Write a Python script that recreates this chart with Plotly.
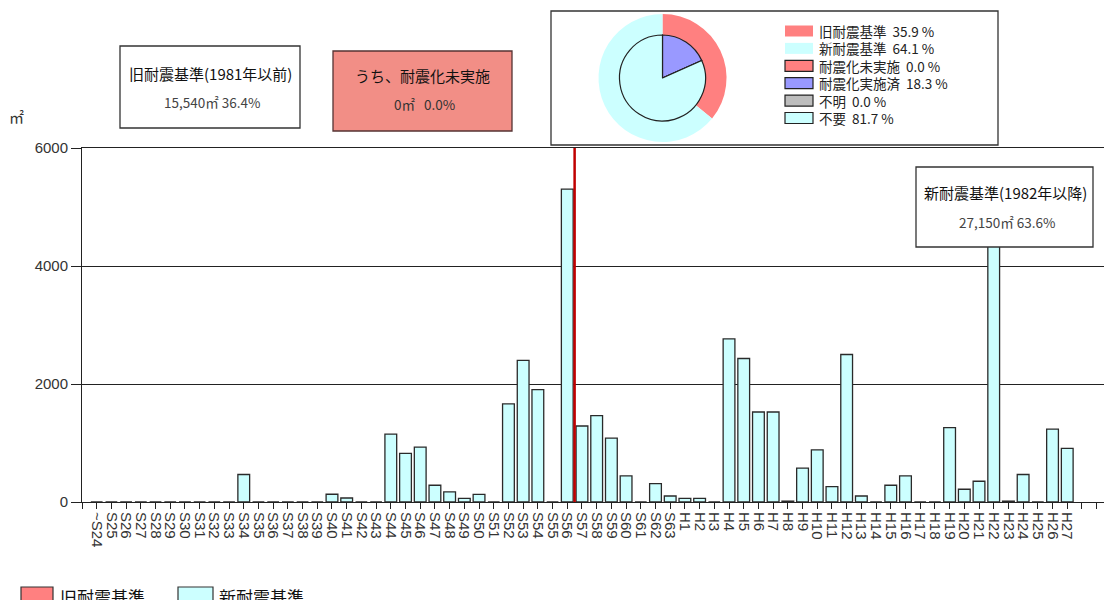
import plotly.graph_objects as go

W, H = 1104, 600

# ---------------- data ----------------
categories = ["~S24"] + [f"S{n}" for n in range(25, 64)] + [f"H{n}" for n in range(1, 28)]
areas = [0, 0, 0, 0, 0, 0, 0, 0, 0, 0,
         466, 0, 0, 0, 0, 0, 131, 68, 0, 0,
         1152, 823, 930, 284, 170, 63, 130, 0, 1662, 2399,
         1906, 0, 5302, 1288, 1463, 1083, 443, 0, 312, 102,
         63, 63, 0, 2766, 2432, 1525, 1525, 15, 573, 885,
         261, 2500, 102, 0, 284, 443, 0, 0, 1260, 216,
         352, 4570, 15, 466, 0, 1236, 908]
boundary_category = "S56"          # last year of the old seismic standard
extra_ticks_after = 2              # empty tick slots after H27
y_ticks = [0, 2000, 4000, 6000]

outer_labels = ["旧耐震基準", "新耐震基準"]
outer_pct = [35.9, 64.1]
inner_labels = ["耐震化未実施", "耐震化実施済", "不明", "不要"]
inner_pct = [0.0, 18.3, 0.0, 81.7]

old_title, old_area, old_share = "旧耐震基準(1981年以前)", "15,540", 36.4
unret_title, unret_area, unret_share = "うち、耐震化未実施", "0", 0.0
new_title, new_area, new_share = "新耐震基準(1982年以降)", "27,150", 63.6

# ---------------- styles ----------------
RED = "#FF8080"
CYAN = "#CCFFFF"
BLUE = "#9999FF"
GRAY = "#BDBDBD"
SALMON = "#F28E86"
JP = "Noto Sans CJK JP"
LAT = "Liberation Sans, Noto Sans CJK JP"
NB = "\u00a0"

def px(x):
    return x / W

def py(y):
    return 1 - y / H

idx = list(range(len(categories)))
tickvals = list(range(-1, len(categories) + extra_ticks_after))
ticktext = [categories[v] if 0 <= v < len(categories) else "" for v in tickvals]
boundary_x = categories.index(boundary_category) + 0.5

fig = go.Figure()

fig.add_trace(go.Bar(
    x=idx, y=areas, width=0.8,
    marker=dict(color=CYAN, line=dict(color="#2a2a2a", width=1.3)),
    showlegend=False, hoverinfo="skip",
))

# pies
fig.add_trace(go.Pie(
    labels=outer_labels, values=outer_pct, sort=False, direction="clockwise",
    marker=dict(colors=[RED, CYAN], line=dict(width=0)),
    textinfo="none", showlegend=False, hoverinfo="skip",
    domain=dict(x=[px(598.5), px(726.5)], y=[py(142), py(14)]),
))
fig.add_trace(go.Pie(
    labels=inner_labels, values=inner_pct, sort=False, direction="clockwise",
    marker=dict(colors=[RED, BLUE, GRAY, CYAN], line=dict(color="#222222", width=1.2)),
    textinfo="none", showlegend=False, hoverinfo="skip",
    domain=dict(x=[px(619.5), px(705.5)], y=[py(121), py(35)]),
))

shapes = []
annotations = []

# old/new boundary line
shapes.append(dict(type="line", xref="x", yref="y", x0=boundary_x, x1=boundary_x,
                   y0=0, y1=y_ticks[-1], line=dict(color="#C00000", width=2.5), layer="above"))

# info boxes
def box(x0, y0, x1, y1, fill, line, layer="above"):
    shapes.append(dict(type="rect", xref="paper", yref="paper",
                       x0=px(x0), x1=px(x1), y0=py(y1), y1=py(y0),
                       fillcolor=fill, line=dict(color=line, width=1.3), layer=layer))

def text(x, y, s, size=13, color="#111111", xanchor="center", family=JP):
    annotations.append(dict(xref="paper", yref="paper", x=px(x), y=py(y), text=s,
                            showarrow=False, xanchor=xanchor, yanchor="middle",
                            font=dict(family=family, size=size, color=color)))

box(120, 46, 300, 128, "white", "#333333")
text(210, 74, old_title, 15)
text(212, 102, f"{old_area}㎡ {old_share:.1f}%", 13.5, "#444444")

box(333, 51, 512, 131, SALMON, "#553333")
text(422, 75, unret_title, 15)
text(424, 104, f"{unret_area}㎡{NB}{NB}{NB}{unret_share:.1f}%", 13.5, "#333333")

box(916, 167, 1093, 247, "white", "#333333")
text(1005, 192, new_title, 15)
text(1007, 222, f"{new_area}㎡ {new_share:.1f}%", 13.5, "#444444")

# pie panel
box(551, 11, 998, 145, "white", "#333333", layer="below")
legend_rows = (list(zip(outer_labels, outer_pct, [RED, CYAN], [False, False])) +
               list(zip(inner_labels, inner_pct, [RED, BLUE, GRAY, CYAN], [True] * 4)))
for k, (lab, pct, col, border) in enumerate(legend_rows):
    yc = 31 + k * 17.4
    shapes.append(dict(type="rect", xref="paper", yref="paper",
                       x0=px(785), x1=px(813), y0=py(yc + 5.5), y1=py(yc - 5.5),
                       fillcolor=col,
                       line=dict(color="#222222" if border else col, width=1.2 if border else 0)))
    text(817, yc, f"{lab}{NB}{NB}{pct:.1f}{NB}%", 13.5, "#222222", xanchor="left")

# bottom legend
shapes.append(dict(type="rect", xref="paper", yref="paper", x0=px(21), x1=px(53),
                   y0=py(604), y1=py(587), fillcolor=RED, line=dict(color="#333333", width=1.2)))
text(58, 596, "旧耐震基準", 17, "#111111", xanchor="left")
shapes.append(dict(type="rect", xref="paper", yref="paper", x0=px(178), x1=px(213),
                   y0=py(604), y1=py(587), fillcolor=CYAN, line=dict(color="#333333", width=1.2)))
text(217, 596, "新耐震基準", 17, "#111111", xanchor="left")

# unit label
text(16, 116, "㎡", 15, "#333333")

fig.update_layout(
    width=W, height=H, margin=dict(l=0, r=0, t=0, b=0, pad=0, autoexpand=False),
    paper_bgcolor="white", plot_bgcolor="white",
    bargap=0.2, shapes=shapes, annotations=annotations,
    xaxis=dict(domain=[px(82), 1.0], range=[-1, 68.5], tickmode="array",
               tickvals=tickvals, ticktext=ticktext, tickangle=90,
               ticks="outside", ticklen=6, tickcolor="#222222",
               showline=True, linecolor="#222222", linewidth=1, mirror=True,
               showgrid=False, zeroline=False, automargin=False,
               tickfont=dict(family="Liberation Sans", size=15, color="#333333")),
    yaxis=dict(domain=[py(502), py(148)], range=[0, y_ticks[-1]], tickmode="array",
               tickvals=y_ticks, ticks="outside", ticklen=10, tickcolor="#222222",
               showline=True, linecolor="#222222", linewidth=1,
               showgrid=True, gridcolor="#222222", gridwidth=1, zeroline=False,
               automargin=False,
               tickfont=dict(family=LAT, size=15, color="#333333")),
)

fig.write_html(
    "out.html",
    config={"displayModeBar": False},
    post_script="document.body.style.margin='0';document.body.style.overflow='hidden';",
)
